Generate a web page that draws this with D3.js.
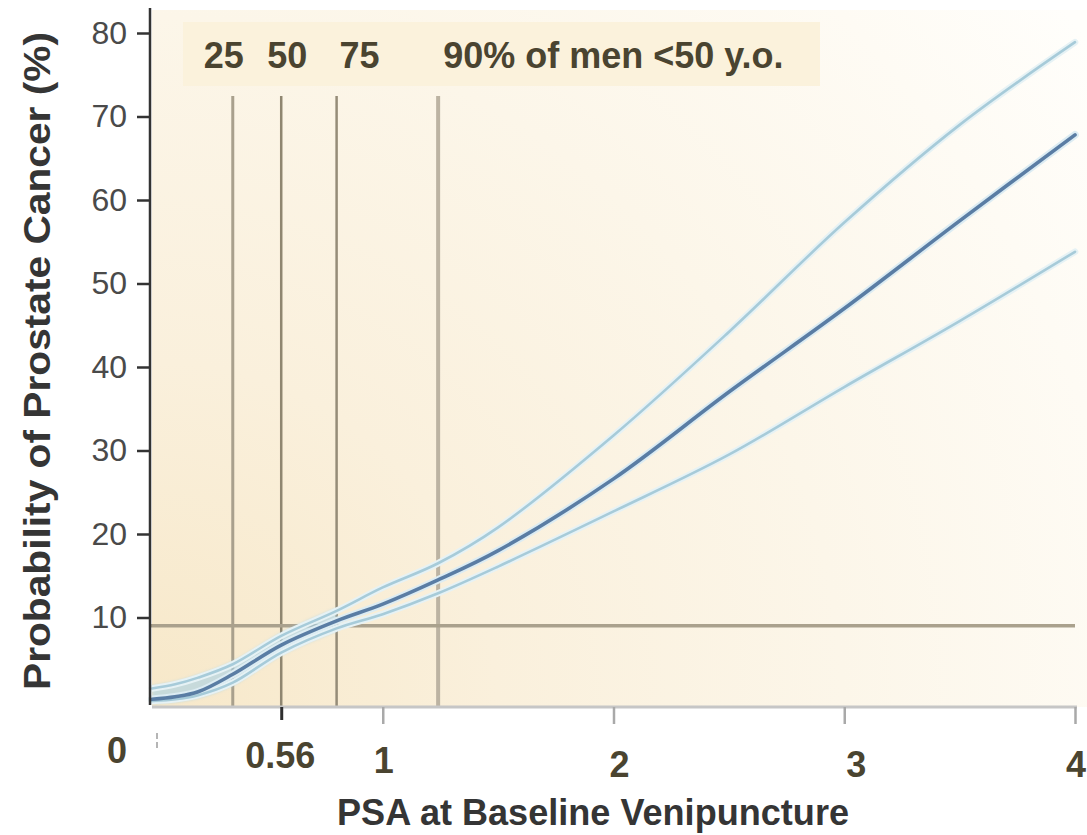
<!DOCTYPE html>
<html>
<head>
<meta charset="utf-8">
<script src="https://cdn.jsdelivr.net/npm/d3@7/dist/d3.min.js"></script>
<style>
  html, body { margin: 0; padding: 0; background: #ffffff; }
  svg { display: block; }
  text { font-family: "Liberation Sans", Arial, Helvetica, sans-serif; }
</style>
</head>
<body>
<svg id="chart" width="1087" height="835"></svg>
<script>
// PSA value (ng/mL) at which each curve is sampled
const psa = [0, 0.1, 0.2, 0.35, 0.56, 0.8, 1.0, 1.24, 1.5, 2.0, 2.5, 3.0, 3.5, 4.0];
// Probability of prostate cancer (%), fitted estimate
const probMid = [0.2, 0.5, 1.1, 3.2, 6.7, 9.6, 11.6, 14.5, 18.0, 26.6, 37.0, 47.0, 57.5, 67.8];
// Upper and lower confidence limits (%)
const probUpper = [1.5, 2.0, 2.8, 4.4, 7.8, 10.8, 13.6, 16.5, 20.8, 31.8, 44.2, 57.3, 69.0, 78.9];
const probLower = [0.0, 0.2, 0.7, 2.2, 5.8, 8.7, 10.4, 12.9, 16.1, 22.7, 29.5, 37.6, 45.5, 53.8];

// Baseline PSA percentiles among men under 50
const pctLabels = ["25", "50", "75", "90% of men <50 y.o."];
const pctValues = [0.35, 0.56, 0.8, 1.24];
// Reference risk level (%)
const refRisk = 9;

// Axis ticks
const xTicks = [0, 0.56, 1, 2, 3, 4];
const xTickLabels = ["0", "0.56", "1", "2", "3", "4"];
const yTicks = [10, 20, 30, 40, 50, 60, 70, 80];

const svg = d3.select("#chart");
const x = d3.scaleLinear().domain([0, 4]).range([152, 1075]);
const y = d3.scaleLinear().domain([0, 80]).range([701, 33]);
const plotBottom = 707;

// Warm background wash, strongest near the origin
const defs = svg.append("defs");
const rg = defs.append("radialGradient").attr("id", "wash")
  .attr("gradientUnits", "userSpaceOnUse")
  .attr("cx", 152).attr("cy", plotBottom).attr("r", 1150);
[[0, "#f7e8c9"], [0.3, "#faf0dc"], [0.6, "#fcf6e9"], [0.85, "#fefbf4"], [1, "#fffefb"]]
  .forEach(([o, c]) => rg.append("stop").attr("offset", o).attr("stop-color", c));
defs.append("filter").attr("id", "soft")
  .append("feGaussianBlur").attr("stdDeviation", 1.6);

svg.append("rect").attr("x", 152).attr("y", 10)
  .attr("width", 1087 - 152).attr("height", plotBottom - 10)
  .attr("fill", "url(#wash)");

// Label strip for the percentile markers
svg.append("rect").attr("x", 183).attr("y", 22).attr("width", 637).attr("height", 64)
  .attr("fill", "#fbf2dc");

// Percentile guide lines
const guideStyle = [
  { c: "#a9a08d", w: 3 },
  { c: "#8f8670", w: 2.5 },
  { c: "#958c78", w: 2.5 },
  { c: "#bcb3a2", w: 4 }
];
svg.append("g").selectAll("line").data(pctValues).join("line")
  .attr("x1", d => x(d)).attr("x2", d => x(d))
  .attr("y1", 96).attr("y2", plotBottom)
  .attr("stroke", (d, i) => guideStyle[i].c)
  .attr("stroke-width", (d, i) => guideStyle[i].w);

// Reference risk line
svg.append("line")
  .attr("x1", 150).attr("x2", 1075)
  .attr("y1", y(refRisk)).attr("y2", y(refRisk))
  .attr("stroke", "#aaa18d").attr("stroke-width", 3.5);

// Percentile labels
const labelShift = [-29, -14, 3, 5];
svg.append("g").selectAll("text").data(pctLabels).join("text")
  .attr("x", (d, i) => x(pctValues[i]) + labelShift[i])
  .attr("y", 68)
  .attr("font-size", 36).attr("font-weight", "bold")
  .attr("fill", "#4a4430")
  .text(d => d);

// Curves
const pts = arr => psa.map((p, i) => [p, arr[i]]);
const line = d3.line().x(d => x(d[0])).y(d => y(d[1])).curve(d3.curveCatmullRom.alpha(0.5));

// soft blue glow where the band is narrow
const bandIdx = psa.map((p, i) => i).filter(i => psa[i] <= 0.8);
const band = d3.area()
  .x(i => x(psa[i]))
  .y0(i => y(probLower[i]) + 3)
  .y1(i => y(probUpper[i]) - 3)
  .curve(d3.curveCatmullRom.alpha(0.5));
svg.append("path").datum(bandIdx).attr("d", band)
  .attr("fill", "#a8d1e6").attr("opacity", 0.6).attr("filter", "url(#soft)");

const series = [
  { v: probUpper, c: "#a7cbd9", w: 2.6, halo: "#e6f2f5" },
  { v: probLower, c: "#a7cbd9", w: 2.6, halo: "#e6f2f5" },
  { v: probMid, c: "#5a7da4", w: 3.6, halo: "#dcecf3" }
];
series.forEach(s => {
  svg.append("path").datum(pts(s.v)).attr("d", line)
    .attr("fill", "none").attr("stroke", s.halo).attr("stroke-width", s.w + 4)
    .attr("stroke-linecap", "round");
});
series.forEach(s => {
  svg.append("path").datum(pts(s.v)).attr("d", line)
    .attr("fill", "none").attr("stroke", s.c).attr("stroke-width", s.w)
    .attr("stroke-linecap", "round");
});

// Y axis
svg.append("line").attr("x1", 150).attr("x2", 150).attr("y1", 8).attr("y2", 705)
  .attr("stroke", "#333").attr("stroke-width", 2.5);
const yAxis = svg.append("g").attr("transform", "translate(150,0)")
  .call(d3.axisLeft(y).tickValues(yTicks).tickSize(13).tickPadding(10));
yAxis.select(".domain").remove();
yAxis.selectAll(".tick line").attr("stroke", "#333").attr("stroke-width", 2.5);
yAxis.selectAll(".tick text")
  .attr("font-family", "'Liberation Sans', Arial, sans-serif")
  .attr("font-size", 32).attr("fill", "#4a4a4a");

// X axis
svg.append("line").attr("x1", 152).attr("x2", 1077)
  .attr("y1", plotBottom).attr("y2", plotBottom)
  .attr("stroke", "#c6c6c6").attr("stroke-width", 3);
const xAxis = svg.append("g").attr("transform", `translate(0,${plotBottom})`)
  .call(d3.axisBottom(x).tickValues(xTicks.filter(t => t > 0)).tickSize(17).tickFormat(""));
xAxis.select(".domain").remove();
xAxis.selectAll(".tick line")
  .attr("stroke", d => d === 0.56 ? "#2f2f2f" : "#a9a9a9")
  .attr("stroke-width", d => d === 0.56 ? 3 : 2.5)
  .attr("y2", d => d === 0.56 ? 13 : 17);
// faint origin tick
svg.append("line").attr("x1", x(0) + 5).attr("x2", x(0) + 5).attr("y1", 733).attr("y2", 750)
  .attr("stroke", "#b5b5b5").attr("stroke-width", 2).attr("stroke-dasharray", "6,3");

const tickDx = [-35, -1, 1, 6, 12, 1];
const tickY = [763, 768, 773, 777, 777, 777];
svg.append("g").selectAll("text").data(xTicks).join("text")
  .attr("x", (d, i) => x(d) + tickDx[i])
  .attr("y", (d, i) => tickY[i])
  .attr("text-anchor", "middle")
  .attr("font-size", 36).attr("font-weight", "bold")
  .attr("fill", "#4a4430")
  .text((d, i) => xTickLabels[i]);

// Axis titles
svg.append("text")
  .attr("x", 337).attr("y", 825)
  .attr("font-size", 36).attr("font-weight", "bold").attr("fill", "#353535")
  .attr("textLength", 512).attr("lengthAdjust", "spacingAndGlyphs")
  .text("PSA at Baseline Venipuncture");

svg.append("text")
  .attr("transform", "translate(50,690) rotate(-90)")
  .attr("x", 0).attr("y", 0)
  .attr("font-size", 37).attr("font-weight", "bold").attr("fill", "#353535")
  .attr("textLength", 658).attr("lengthAdjust", "spacingAndGlyphs")
  .text("Probability of Prostate Cancer (%)");
</script>
</body>
</html>
